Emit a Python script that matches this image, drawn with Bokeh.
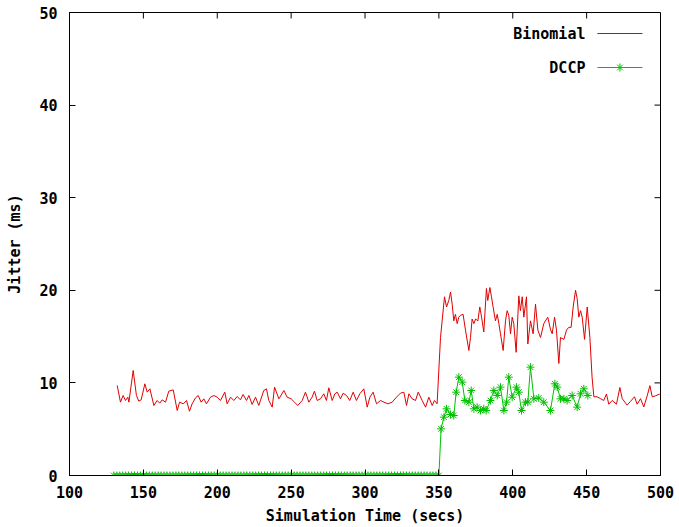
from bokeh.plotting import figure
from bokeh.models import Range1d, FixedTicker, Label
from bokeh.embed import file_html
from bokeh.resources import INLINE

# ---------------- data ----------------
x_ticks = [100, 150, 200, 250, 300, 350, 400, 450, 500]
y_ticks = [0, 10, 20, 30, 40, 50]

binomial_time = [
    132.3, 134.5, 136.3, 137.9, 139.5, 140.2, 143.1, 145.3, 146.9, 148.5,
    151.0, 152.6, 154.4, 157.1, 159.3, 161.1, 162.7, 165.0, 167.2, 170.2,
    172.9, 174.5, 177.0, 179.2, 181.2, 183.0, 185.3, 187.1, 189.1, 190.9,
    192.7, 195.4, 197.7, 199.9, 202.2, 205.1, 206.7, 209.0, 211.2, 213.5,
    215.7, 217.5, 219.8, 221.4, 223.6, 225.9, 228.1, 231.5, 233.3, 234.9,
    237.2, 238.8, 241.7,
    242.4, 245.1, 247.3, 250.0, 252.3, 254.5, 257.5, 259.7, 262.0, 264.2,
    265.8, 267.6, 269.9, 272.1, 273.9, 275.5, 277.8, 279.6, 281.2, 283.4,
    285.2, 287.5, 289.7, 292.0, 294.2, 296.5, 299.2, 301.5, 303.3, 305.5,
    307.8, 310.5, 312.8, 315.5, 318.4, 321.3, 324.0, 326.3, 328.1, 329.7,
    331.9, 334.2, 336.0, 338.7, 341.0, 343.2, 345.5, 347.0, 348.8,
    351.1, 352.2, 353.8, 355.2, 356.7, 357.9, 359.0, 360.1, 361.2, 362.4,
    363.5, 364.6, 366.4, 368.0, 370.3, 371.4, 372.5, 373.7, 374.8, 376.4,
    377.7, 378.9, 380.4, 382.2, 383.1, 384.5, 385.6, 386.7, 388.3, 389.5,
    390.6, 391.7, 393.5, 395.1, 396.2, 397.3, 398.5, 399.6, 400.7, 402.3,
    404.1, 405.2, 406.4, 407.5, 409.3, 410.2,
    412.0, 413.8, 415.4, 417.0, 418.8, 421.0, 423.7, 425.5, 426.7, 428.3,
    429.6, 431.2, 432.3, 434.6, 436.4, 437.9, 439.5, 440.9, 442.5, 443.6,
    444.7, 445.9, 447.0, 448.6, 450.4, 452.2, 453.7, 454.9, 457.1, 459.4,
    461.6, 463.4, 465.0, 467.3, 470.2, 472.5, 474.1, 477.4, 479.7, 482.4,
    484.2, 486.5, 488.7, 491.0, 492.8, 494.4, 496.6, 499.5,
]
binomial_jitter = [
    9.72, 7.92, 8.64, 8.10, 8.46, 7.92, 11.34, 8.64, 8.03, 8.17,
    9.90, 9.00, 9.36, 7.56, 8.10, 7.81, 8.17, 7.92, 9.11, 9.25,
    7.02, 7.92, 7.74, 8.10, 6.94, 7.74, 8.39, 8.64, 7.92, 8.28,
    7.74, 8.46, 8.64, 8.46, 8.10, 9.00, 7.74, 8.46, 8.10, 8.53,
    8.17, 8.75, 8.10, 8.64, 7.67, 8.46, 7.56, 9.18, 9.36, 8.10,
    7.38, 9.54, 8.28,
    8.46, 9.18, 8.46, 8.28, 7.92, 7.56, 8.10, 9.00, 7.92, 8.46,
    9.11, 8.10, 8.28, 8.82, 8.10, 9.47, 8.10, 8.82, 9.00, 8.28,
    8.89, 8.64, 8.10, 9.00, 8.10, 8.82, 9.36, 7.38, 8.46, 9.00,
    7.74, 8.10, 7.92, 7.74, 7.92, 8.46, 8.89, 9.00, 7.56, 8.82,
    8.28, 8.10, 9.00, 8.10, 7.38, 8.46, 7.56, 8.10, 7.74,
    14.9, 16.7, 19.3, 18.2, 18.9, 19.8, 18.5, 16.7, 17.4, 16.4,
    17.1, 17.3, 17.4, 15.7, 13.5, 14.9, 16.9, 16.4, 16.9, 16.7,
    18.2, 17.1, 15.5, 20.2, 18.9, 20.3, 19.3, 18.2, 16.7, 17.4,
    16.4, 15.3, 13.5, 16.7, 17.8, 17.3, 15.3, 17.1, 16.4, 13.3,
    19.4, 17.8, 19.3, 17.1, 19.3, 14.2,
    16.7, 15.3, 18.5, 15.7, 14.9, 16.4, 17.1, 15.8, 15.3, 17.1,
    15.7, 12.1, 14.9, 14.7, 15.7, 16.0, 16.0, 18.2, 20.0, 19.1,
    17.1, 17.8, 17.1, 14.7, 18.2, 14.9, 10.6, 8.5, 8.5, 8.3,
    8.1, 8.8, 7.7, 8.1, 7.7, 9.5, 8.3, 7.6, 8.0, 8.5,
    7.7, 8.3, 7.4, 8.6, 9.7, 8.5, 8.6, 8.8,
]

dccp_time = [
    130, 132, 134, 136, 138, 140, 142, 144, 146, 148,
    150, 152, 154, 156, 158, 160, 162, 164, 166, 168,
    170, 172, 174, 176, 178, 180, 182, 184, 186, 188,
    190, 192, 194, 196, 198, 200, 202, 204, 206, 208,
    210, 212, 214, 216, 218, 220, 222, 224, 226, 228,
    230, 232, 234, 236, 238, 240, 242, 244, 246, 248,
    250, 252, 254, 256, 258, 260, 262, 264, 266, 268,
    270, 272, 274, 276, 278, 280, 282, 284, 286, 288,
    290, 292, 294, 296, 298, 300, 302, 304, 306, 308,
    310, 312, 314, 316, 318, 320, 322, 324, 326, 328,
    330, 332, 334, 336, 338, 340, 342, 344, 346, 348,
    350,
    351.5, 353.4, 355.2, 357.9, 360.1, 361.7, 363.5, 365.8, 367.6, 370.3,
    371.9, 373.7, 375.9, 378.2, 380.4, 382.0, 384.9, 387.2, 389.5, 391.7,
    394.0, 395.8, 397.3, 399.6, 402.5, 404.1, 405.9, 408.6, 410.2, 412.0,
    414.3, 417.6, 421.0, 425.5, 428.5, 430.1, 432.3, 434.6, 436.8, 440.2,
    443.6, 445.9, 448.1, 450.8,
]
dccp_jitter = [
    0, 0, 0, 0, 0, 0, 0, 0, 0, 0,
    0, 0, 0, 0, 0, 0, 0, 0, 0, 0,
    0, 0, 0, 0, 0, 0, 0, 0, 0, 0,
    0, 0, 0, 0, 0, 0, 0, 0, 0, 0,
    0, 0, 0, 0, 0, 0, 0, 0, 0, 0,
    0, 0, 0, 0, 0, 0, 0, 0, 0, 0,
    0, 0, 0, 0, 0, 0, 0, 0, 0, 0,
    0, 0, 0, 0, 0, 0, 0, 0, 0, 0,
    0, 0, 0, 0, 0, 0, 0, 0, 0, 0,
    0, 0, 0, 0, 0, 0, 0, 0, 0, 0,
    0, 0, 0, 0, 0, 0, 0, 0, 0, 0,
    0,
    5.04, 6.30, 7.20, 6.59, 6.48, 9.00, 10.62, 10.08, 8.10, 7.92,
    9.18, 7.20, 7.38, 7.02, 7.20, 7.02, 8.10, 9.18, 8.64, 9.54,
    7.02, 7.92, 10.62, 8.46, 9.54, 9.00, 7.02, 7.92, 7.92, 11.70,
    8.28, 8.37, 7.92, 7.02, 9.90, 9.54, 8.28, 8.28, 8.10, 8.64,
    7.38, 8.82, 9.36, 8.64,
]

series_names = ["Binomial", "DCCP"]

# ---------------- styling ----------------
FONT = "DejaVu Sans Mono"
FS = "15px"
RED = "#e00000"
GREEN = "#00c000"
FW, FH = 591, 463
X0, X1 = x_ticks[0], x_ticks[-1]
Y0, Y1 = y_ticks[0], y_ticks[-1]

p = figure(
    frame_width=FW, frame_height=FH,
    x_range=Range1d(X0, X1), y_range=Range1d(Y0, Y1),
    output_backend="svg", toolbar_location=None,
    min_border_left=69, min_border_right=19,
    min_border_top=12, min_border_bottom=52,
)
p.background_fill_color = "white"
p.border_fill_color = "white"
p.outline_line_color = "black"
p.outline_line_width = 1
p.xgrid.visible = False
p.ygrid.visible = False

for ax, ticks in ((p.xaxis[0], x_ticks), (p.yaxis[0], y_ticks)):
    ax.ticker = FixedTicker(ticks=ticks)
    ax.major_tick_in = 6
    ax.major_tick_out = 0
    ax.minor_tick_line_color = None
    ax.axis_line_color = "black"
    ax.major_tick_line_color = "black"
    ax.major_label_text_font = FONT
    ax.major_label_text_font_size = FS
    ax.major_label_text_font_style = "bold"
    ax.major_label_text_color = "black"
    ax.axis_label_text_font = FONT
    ax.axis_label_text_font_size = FS
    ax.axis_label_text_font_style = "bold"
    ax.axis_label_text_color = "black"

p.xaxis.axis_label = "Simulation Time (secs)"
p.yaxis.axis_label = "Jitter (ms)"
p.xaxis.major_label_standoff = 10
p.xaxis.axis_label_standoff = 6
p.yaxis.major_label_standoff = 12
p.yaxis.axis_label_standoff = 12

# mirrored tick marks on top and right edges (gnuplot style), 6 px long
tick_px = 6
dy = tick_px * (Y1 - Y0) / FH
dx = tick_px * (X1 - X0) / FW
p.segment(x0=x_ticks, y0=[Y1] * len(x_ticks), x1=x_ticks, y1=[Y1 - dy] * len(x_ticks),
          line_color="black", line_width=1)
p.segment(x0=[X1] * len(y_ticks), y0=y_ticks, x1=[X1 - dx] * len(y_ticks), y1=y_ticks,
          line_color="black", line_width=1)

# data
p.line(binomial_time, binomial_jitter, line_color=RED, line_width=1)
p.line(dccp_time, dccp_jitter, line_color=GREEN, line_width=1)
p.scatter(dccp_time, dccp_jitter, marker="asterisk", size=8,
          line_color=GREEN, line_width=1)

# gnuplot-style key (text right-aligned, sample to its right)
key_text_x = 449.2
key_line_x0, key_line_x1 = 457.3, 487.8
key_rows_y = [47.73, 44.06]
colors = [RED, GREEN]
for name, ky, col in zip(series_names, key_rows_y, colors):
    p.add_layout(Label(x=key_text_x, y=ky, text=name, text_align="right",
                       text_baseline="middle", text_font=FONT, text_font_size=FS,
                       text_font_style="bold", text_color="black"))
    p.line([key_line_x0, key_line_x1], [ky, ky], line_color=col, line_width=1)
p.scatter([(key_line_x0 + key_line_x1) / 2], [key_rows_y[1]], marker="asterisk",
          size=8, line_color=GREEN)

open("out.html", "w").write(file_html(p, INLINE))
